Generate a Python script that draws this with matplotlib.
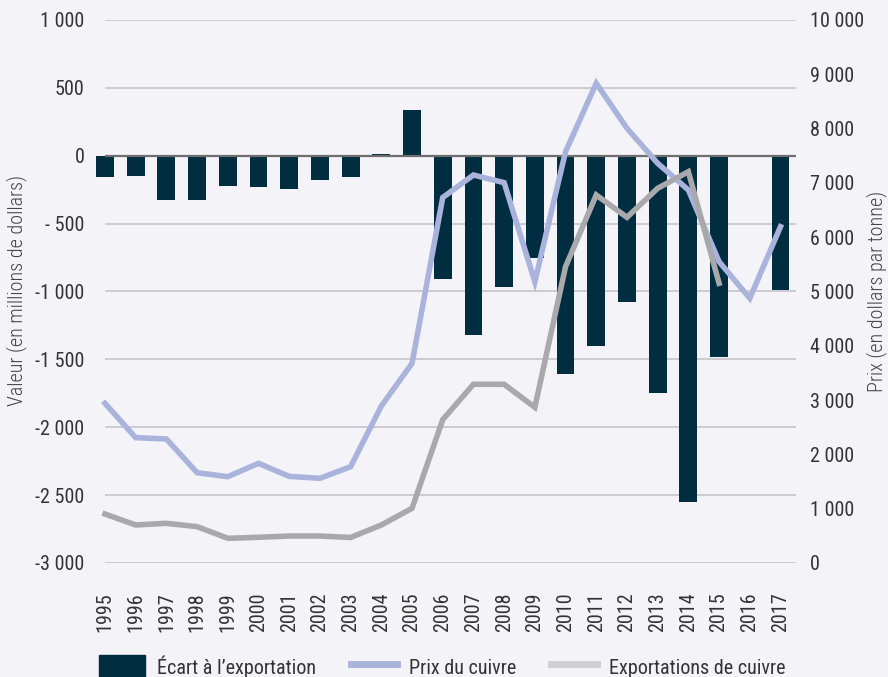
import matplotlib
matplotlib.use("Agg")
import matplotlib.pyplot as plt
from matplotlib.lines import Line2D
from matplotlib.patches import Patch
import matplotlib.font_manager as fm

years = [str(y) for y in range(1995, 2018)]
ecart = [-155, -150, -325, -325, -220, -230, -245, -180, -160, 10, 340, -910,
         -1320, -970, -757, -1605, -1405, -1080, -1745, -2550, -1485, None, -990]
prix = [2940, 2308, 2284, 1663, 1589, 1836, 1595, 1560, 1774, 2891, 3677, 6730,
        7145, 7004, 5180, 7574, 8834, 8005, 7361, 6869, 5549, 4875, 6193]
exports = [902, 700, 731, 669, 455, 473, 497, 497, 470, 700, 1007, 2640,
           3291, 3291, 2867, 5457, 6777, 6366, 6900, 7206, 5151, None, None]

left_ticks = [1000, 500, 0, -500, -1000, -1500, -2000, -2500, -3000]
left_labels = ["1 000", "500", "0", "- 500", "-1 000", "-1 500", "-2 000", "-2 500", "-3 000"]
right_ticks = list(range(0, 10001, 1000))
right_labels = ["0", "1 000", "2 000", "3 000", "4 000", "5 000", "6 000", "7 000", "8 000", "9 000", "10 000"]

names = {f.name for f in fm.fontManager.ttflist}
fam = "Roboto"
for cand in ["Roboto Condensed", "Liberation Sans Narrow", "Open Sans Condensed", "DejaVu Sans Condensed"]:
    if cand in names:
        fam = cand
        break
plt.rcParams['font.family'] = [fam, 'DejaVu Sans']

BG = "#f4f4f8"
BAR = "#002d40"
PRIX_C = "#aab3db"
EXP_C = "#a9a9ab"
TXT = "#333333"
FS = 14.5

fig = plt.figure(figsize=(8.88, 6.77), dpi=100, facecolor=BG)
ax = fig.add_axes([0.1044, 0.1684, 0.7918, 0.8021], facecolor=BG)
x = list(range(len(years)))

for v in left_ticks:
    if v != 0:
        ax.hlines(v, 0, 22.5, color="#c4c4c8", lw=1.2, zorder=0)

bx = [i for i, v in enumerate(ecart) if v is not None]
bv = [v for v in ecart if v is not None]
ax.bar(bx, bv, width=0.58, color=BAR, zorder=2)
ax.hlines(0, 0, 22.5, color="#6e6e70", lw=1.6, zorder=3)

ax.set_xlim(-0.4, 22.5)
ax.set_ylim(-3000, 1000)
ax.set_yticks(left_ticks)
ax.set_yticklabels(left_labels, fontsize=FS, color=TXT)
ax.set_xticks(x)
ax.set_xticklabels(years, rotation=90, fontsize=FS, color=TXT)
ax.tick_params(axis='x', length=0, pad=21)
ax.tick_params(axis='y', length=0, pad=6)
for s in ax.spines.values():
    s.set_visible(False)

ax2 = ax.twinx()
ax2.set_ylim(0, 10000)
px = [i for i, v in enumerate(prix) if v is not None]
ax2.plot(px, [prix[i] for i in px], color=PRIX_C, lw=4, zorder=4, solid_joinstyle="miter")
ex = [i for i, v in enumerate(exports) if v is not None]
ax2.plot(ex, [exports[i] for i in ex], color=EXP_C, lw=4, zorder=4, solid_joinstyle="miter")
ax2.set_yticks(right_ticks)
ax2.set_yticklabels(right_labels, fontsize=FS, color=TXT)
ax2.tick_params(length=0, pad=10)
for s in ax2.spines.values():
    s.set_visible(False)

fig.text(17 / 888, 1 - 291 / 677, "Valeur (en millions de dollars)", rotation=90,
         ha="center", va="center", fontsize=14.5, color="#444444", fontweight="light")
fig.text(877 / 888, 1 - 291 / 677, "Prix (en dollars par tonne)", rotation=90,
         ha="center", va="center", fontsize=14.5, color="#444444", fontweight="light")

handles = [Patch(facecolor=BAR, edgecolor=BAR),
           Line2D([0], [0], color=PRIX_C, lw=5),
           Line2D([0], [0], color="#d0d0d2", lw=5)]
labels = ["Écart à l’exportation", "Prix du cuivre", "Exportations de cuivre"]
fig.legend(handles, labels, loc="center", bbox_to_anchor=(0.498, 0.015), ncol=3,
           frameon=False, fontsize=14.5, handlelength=2.3, handleheight=1.4,
           columnspacing=1.7, labelcolor=TXT, handletextpad=0.6)

fig.savefig("out.png", dpi=100, facecolor=BG)
